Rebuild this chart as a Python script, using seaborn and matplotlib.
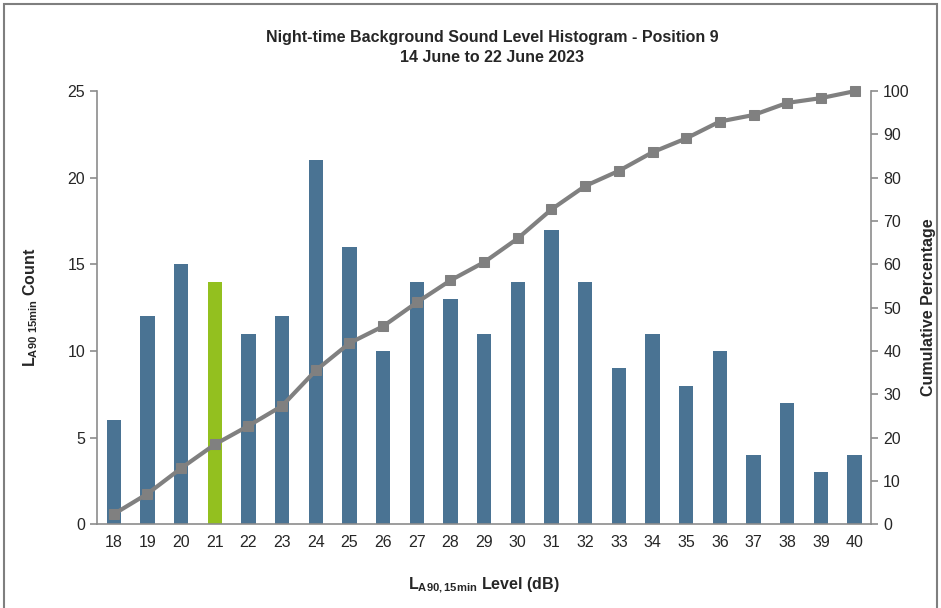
import numpy as np
import pandas as pd
import matplotlib
matplotlib.use('Agg')
import matplotlib.pyplot as plt
from matplotlib.patches import Rectangle
import seaborn as sns

# 直方图数据
levels = [18, 19, 20, 21, 22, 23, 24, 25, 26, 27, 28, 29, 30, 31, 32, 33, 34, 35, 36, 37, 38, 39, 40]
counts = [6, 12, 15, 14, 11, 12, 21, 16, 10, 14, 13, 11, 14, 17, 14, 9, 11, 8, 10, 4, 7, 3, 4]
cum_pct = [2.3, 7.0, 12.9, 18.4, 22.7, 27.3, 35.5, 41.8, 45.7, 51.2, 56.3, 60.5,
           66.0, 72.7, 78.1, 81.6, 85.9, 89.1, 93.0, 94.5, 97.3, 98.4, 100.0]
highlight = 21

sns.set_style('white')
plt.rcParams['font.family'] = ['Liberation Sans', 'DejaVu Sans']
plt.rcParams['mathtext.fontset'] = 'custom'
plt.rcParams['mathtext.rm'] = 'Liberation Sans'
plt.rcParams['mathtext.bf'] = 'Liberation Sans:bold'

blue = '#4a7393'
green = '#93c01f'
grey = '#808080'
axcol = '#8c8c8c'

df = pd.DataFrame({'level': [str(v) for v in levels], 'count': counts})
colors = {str(v): (green if v == highlight else blue) for v in levels}

fig = plt.figure(figsize=(9.41, 6.08), dpi=100)
ax = fig.add_axes([0.103, 0.138, 0.823, 0.712])
sns.barplot(data=df, x='level', y='count', hue='level', palette=colors,
            legend=False, width=0.42, saturation=1, linewidth=0, ax=ax)
ax.set_xlim(-0.5, len(levels) - 0.5)
ax.set_ylim(0, 25)
ax.set_yticks(range(0, 26, 5))

ax2 = ax.twinx()
sns.lineplot(x=np.arange(len(levels)), y=cum_pct, color=grey, linewidth=3,
             marker='s', markersize=7, markeredgecolor=grey, ax=ax2)
for ln in ax2.lines:
    ln.set_clip_on(False)
ax2.set_ylim(0, 100)
ax2.set_yticks(range(0, 101, 10))

# 坐标轴样式
for a in (ax, ax2):
    for s in a.spines.values():
        s.set_visible(False)
ax.spines['left'].set_visible(True)
ax.spines['bottom'].set_visible(True)
ax2.spines['right'].set_visible(True)
for s in (ax.spines['left'], ax.spines['bottom'], ax2.spines['right']):
    s.set_color(axcol)
    s.set_linewidth(1.2)

ax.set_xticks(np.arange(len(levels)))
ax.set_xticklabels([str(v) for v in levels])
ax.set_xticks(np.arange(len(levels) + 1) - 0.5, minor=True)
ax.tick_params(axis='x', which='major', length=0, labelsize=11.5, pad=8)
ax.tick_params(axis='x', which='minor', length=5, color=axcol, width=1.2, direction='out')
ax.tick_params(axis='y', length=5, color=axcol, width=1.2, direction='out', labelsize=11.5, left=True)
ax2.tick_params(axis='y', length=5, color=axcol, width=1.2, direction='out', labelsize=11.5, right=True)

ax.set_xlabel(r'$\mathbf{L_{A90,15min}}$ Level (dB)', fontsize=11.5, fontweight='bold', labelpad=18)
ax.set_ylabel(r'$\mathbf{L_{A90\ 15min}}$ Count', fontsize=11.5, fontweight='bold', labelpad=20)
ax2.set_ylabel('Cumulative Percentage', fontsize=11.5, fontweight='bold', labelpad=8)

fig.text(0.523, 0.922, 'Night-time Background Sound Level Histogram - Position 9\n14 June to 22 June 2023',
         ha='center', va='center', fontsize=11.5, fontweight='bold', linespacing=1.35)

fig.patches.append(Rectangle((0.004, -0.01), 0.992, 1.003, transform=fig.transFigure,
                             fill=False, edgecolor='#7f7f7f', linewidth=1.5))

plt.savefig('out.png', dpi=100)
